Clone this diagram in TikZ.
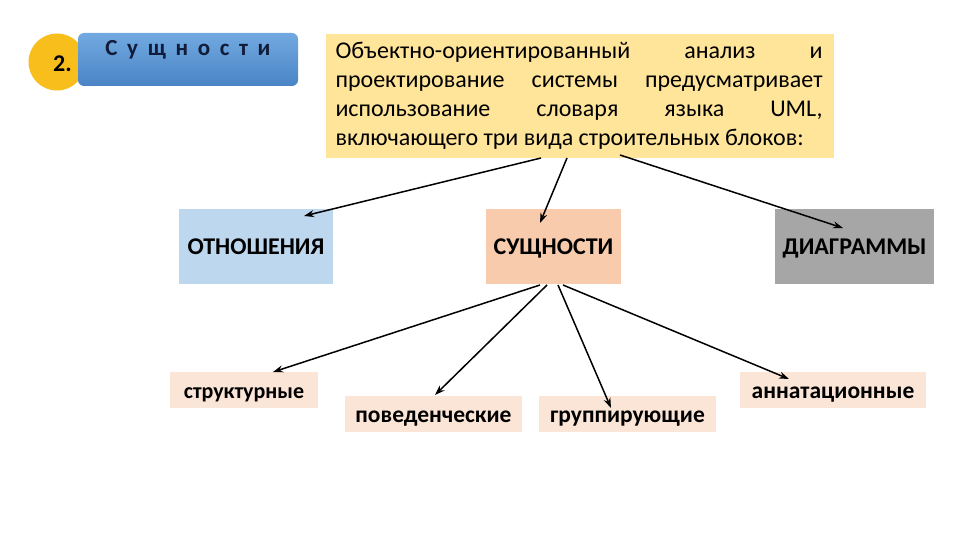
\documentclass[tikz,border=0pt]{standalone}
\usepackage{fontspec}
\setmainfont{Carlito}
\usetikzlibrary{arrows.meta,calc}
\definecolor{gold}{HTML}{F8BF1C}
\definecolor{bluetop}{HTML}{72A9E0}
\definecolor{bluebot}{HTML}{4A84C6}
\definecolor{navy}{HTML}{101C3A}
\definecolor{lyellow}{HTML}{FFE599}
\definecolor{lblue}{HTML}{BDD7EE}
\definecolor{peach}{HTML}{F8CBAD}
\definecolor{gray1}{HTML}{A6A6A6}
\definecolor{lpeach}{HTML}{FBE5D6}
\tikzset{
  box/.style={draw=none, minimum height=75pt, font=\fontsize{24}{28}\selectfont\bfseries, inner sep=0pt, text height=16pt, text depth=0.4pt},
  sub/.style={draw=none, fill=lpeach, minimum height=36pt, font=\fontsize{23.5}{28}\selectfont\bfseries, inner sep=0pt, text height=20pt, text depth=2.6pt},
  arr/.style={-{Stealth[length=10pt,width=7pt]}, line width=1.5pt, black}
}
\begin{document}
\begin{tikzpicture}[x=1pt,y=-1pt]
\useasboundingbox (0,0) rectangle (960,540);
\fill[white] (0,0) rectangle (960,540);
% header
\node[circle, fill=gold, minimum size=57pt, inner sep=0pt] (num) at (57,62) {};
\node[rounded corners=6pt, top color=bluetop, bottom color=bluebot, minimum width=220pt, minimum height=53pt, inner sep=0pt] (title) at (188,59.5) {};
\node[font=\fontsize{24}{28}\selectfont\bfseries, anchor=east, inner sep=0pt] (numt) at (72,64) {2.};
\node[font=\fontsize{23}{26}\selectfont\bfseries\addfontfeature{LetterSpace=42}, text=navy] (titlet) at (188,50) {Сущности};
% main text
\node[fill=lyellow, minimum width=508pt, minimum height=124pt, inner sep=0pt] (intro) at (580,96) {};
\node[text width=487pt, align=justify, inner sep=0pt, font=\fontsize{24}{29}\selectfont] (introt) at (579,96) {Объектно-ориентированный анализ и\linebreak проектирование системы предусматривает\linebreak использование словаря языка UML,\linebreak включающего три вида строительных блоков:};
% level 1
\node[box, fill=lblue, minimum width=154pt] (rel) at (256,246.5) {ОТНОШЕНИЯ};
\node[box, fill=peach, minimum width=135pt] (ent) at (553.5,246.5) {СУЩНОСТИ};
\node[box, fill=gray1, minimum width=159pt] (dia) at (854.5,246.5) {ДИАГРАММЫ};
% level 2
\node[sub, minimum width=148pt, font=\fontsize{22}{26}\selectfont\bfseries] (s1) at (244,390) {структурные};
\node[sub, minimum width=177pt] (s2) at (433.5,414) {поведенческие};
\node[sub, minimum width=177pt] (s3) at (627.5,414) {группирующие};
\node[sub, minimum width=186pt] (s4) at (833,390) {аннатационные};
% arrow endpoints
\coordinate (a1s) at (541,158);
\coordinate (a1e) at (304,216);
\coordinate (a2s) at (567,158);
\coordinate (a2e) at (540,223);
\coordinate (a3s) at (620,155);
\coordinate (a3e) at (843,228);
\coordinate (b1s) at (540,285);
\coordinate (b1e) at (273,372);
\coordinate (b2s) at (547,285);
\coordinate (b2e) at (435,395);
\coordinate (b3s) at (558,285);
\coordinate (b3e) at (611,408);
\coordinate (b4s) at (563,285);
\coordinate (b4e) at (789,379);
\draw[arr] (a1s) -- (a1e);
\draw[arr] (a2s) -- (a2e);
\draw[arr] (a3s) -- (a3e);
\draw[arr] (b1s) -- (b1e);
\draw[arr] (b2s) -- (b2e);
\draw[arr] (b3s) -- (b3e);
\draw[arr] (b4s) -- (b4e);
\end{tikzpicture}
\end{document}
